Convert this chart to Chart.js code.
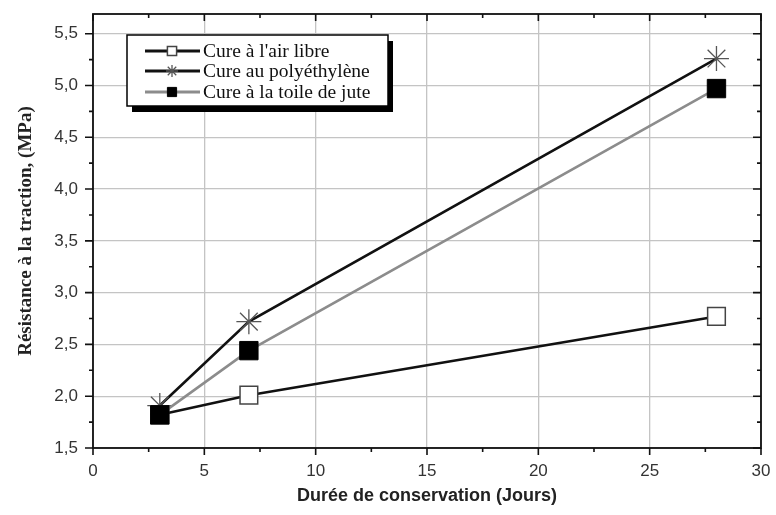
<!DOCTYPE html>
<html lang="fr">
<head>
<meta charset="utf-8" />
<title>Résistance à la traction</title>
<script src="https://cdn.jsdelivr.net/npm/chart.js@4.4.1/dist/chart.umd.min.js"></script>
<style>
  html, body { margin: 0; padding: 0; background: #fff; }
  #wrap { width: 776px; height: 515px; }
</style>
</head>
<body>
<div id="wrap"><canvas id="chart" width="776" height="515"></canvas></div>
<script>
// data
var days = [3, 7, 28];
var airLibre = [1.82, 2.01, 2.77];
var polyethylene = [1.91, 2.72, 5.26];
var toileJute = [1.82, 2.44, 4.97];
var seriesNames = ['Cure à l\'air libre', 'Cure au polyéthylène', 'Cure à la toile de jute'];

var xTicks = [0, 5, 10, 15, 20, 25, 30];
var yTicks = [1.5, 2.0, 2.5, 3.0, 3.5, 4.0, 4.5, 5.0, 5.5];
var xMinor = [2.5, 7.5, 12.5, 17.5, 22.5, 27.5];
var yMinor = [1.75, 2.25, 2.75, 3.25, 3.75, 4.25, 4.75, 5.25];

function pts(ys) {
    return days.map(function (d, i) { return { x: d, y: ys[i] }; });
}

// frame, minor/major ticks and the boxed legend
var decor = {
    id: 'decor',
    afterDraw: function (chart) {
        var ctx = chart.ctx, a = chart.chartArea;
        var xs = chart.scales.x, ys = chart.scales.y;
        ctx.save();
        ctx.strokeStyle = '#111';
        ctx.lineWidth = 1.8;
        ctx.strokeRect(a.left, a.top, a.right - a.left, a.bottom - a.top);

        ctx.lineWidth = 1.6;
        ctx.beginPath();
        xTicks.forEach(function (v) {
            var p = xs.getPixelForValue(v);
            ctx.moveTo(p, a.bottom); ctx.lineTo(p, a.bottom + 7);
            ctx.moveTo(p, a.top); ctx.lineTo(p, a.top + 7);
        });
        xMinor.forEach(function (v) {
            var p = xs.getPixelForValue(v);
            ctx.moveTo(p, a.bottom); ctx.lineTo(p, a.bottom + 4);
            ctx.moveTo(p, a.top); ctx.lineTo(p, a.top + 4);
        });
        yTicks.forEach(function (v) {
            var p = ys.getPixelForValue(v);
            ctx.moveTo(a.left - 8, p); ctx.lineTo(a.left, p);
            ctx.moveTo(a.right, p); ctx.lineTo(a.right - 8, p);
        });
        yMinor.forEach(function (v) {
            var p = ys.getPixelForValue(v);
            ctx.moveTo(a.left - 4, p); ctx.lineTo(a.left, p);
            ctx.moveTo(a.right, p); ctx.lineTo(a.right - 4, p);
        });
        ctx.stroke();

        // legend box with drop shadow
        var bx = 127, by = 35, bw = 261, bh = 71;
        ctx.fillStyle = '#000';
        ctx.fillRect(bx + 5, by + 6, bw, bh);
        ctx.fillStyle = '#fff';
        ctx.fillRect(bx, by, bw, bh);
        ctx.lineWidth = 1.5;
        ctx.strokeStyle = '#000';
        ctx.strokeRect(bx, by, bw, bh);

        var rows = [51, 71, 92];
        var legendR = [6.5, 6, 6.5];
        chart.data.datasets.forEach(function (ds, i) {
            var y = rows[i];
            ctx.strokeStyle = ds.borderColor;
            ctx.lineWidth = 3;
            ctx.beginPath();
            ctx.moveTo(145, y); ctx.lineTo(200, y);
            ctx.stroke();
            ctx.fillStyle = ds.pointBackgroundColor;
            ctx.strokeStyle = ds.pointBorderColor;
            ctx.lineWidth = ds.pointBorderWidth;
            Chart.helpers.drawPoint(ctx, {
                pointStyle: ds.pointStyle,
                radius: legendR[i],
                borderWidth: ds.pointBorderWidth
            }, 172, y);
            ctx.fillStyle = '#111';
            ctx.font = '19.5px "Liberation Serif"';
            ctx.textBaseline = 'middle';
            ctx.fillText(seriesNames[i], 203, y + 1);
        });
        ctx.restore();
    }
};

var ctx = document.getElementById('chart').getContext('2d');
var chart = new Chart(ctx, {
    type: 'scatter',
    data: {
        datasets: [{
            label: seriesNames[0],
            data: pts(airLibre),
            order: 2,
            showLine: true,
            borderColor: '#111',
            borderWidth: 2.6,
            pointStyle: 'rect',
            pointRadius: 12.5,
            pointBackgroundColor: '#fff',
            pointBorderColor: '#444',
            pointBorderWidth: 1.5
        }, {
            label: seriesNames[1],
            data: pts(polyethylene),
            order: 1,
            showLine: true,
            borderColor: '#111',
            borderWidth: 2.6,
            pointStyle: 'star',
            pointRadius: 12.5,
            pointBackgroundColor: '#555',
            pointBorderColor: '#555',
            pointBorderWidth: 1.3
        }, {
            label: seriesNames[2],
            data: pts(toileJute),
            order: 0,
            showLine: true,
            borderColor: '#8c8c8c',
            borderWidth: 2.6,
            pointStyle: 'rect',
            pointRadius: 13,
            pointBackgroundColor: '#000',
            pointBorderColor: '#000',
            pointBorderWidth: 1
        }]
    },
    options: {
        responsive: false,
        animation: false,
        layout: { padding: { top: 8, right: 15, left: 0, bottom: 0 } },
        plugins: { legend: { display: false }, tooltip: { enabled: false } },
        scales: {
            x: {
                type: 'linear', min: 0, max: 30,
                afterBuildTicks: function (s) { s.ticks = xTicks.map(function (v) { return { value: v }; }); },
                afterFit: function (s) { s.height = 67; s.paddingLeft = 0; s.paddingRight = 0; },
                grid: { color: '#c4c4c4', lineWidth: 1.3, drawTicks: false },
                border: { display: false },
                ticks: { padding: 13, color: '#333', font: { family: 'Liberation Sans', size: 17 } },
                title: { display: true, text: 'Durée de conservation (Jours)', color: '#222',
                         font: { family: 'Liberation Sans', size: 18, weight: 'bold' }, padding: { top: 4, bottom: 8 } }
            },
            y: {
                type: 'linear', min: 1.5, max: 5.69,
                afterBuildTicks: function (s) { s.ticks = yTicks.map(function (v) { return { value: v }; }); },
                afterFit: function (s) { s.width = 93; s.paddingTop = 0; s.paddingBottom = 0; },
                grid: { color: '#c4c4c4', lineWidth: 1.3, drawTicks: false },
                border: { display: false },
                ticks: { padding: 15, color: '#333', font: { family: 'Liberation Sans', size: 17 },
                         callback: function (v) { return v.toFixed(1).replace('.', ','); } },
                title: { display: true, text: 'Résistance à la traction, (MPa)', color: '#222',
                         font: { family: 'Liberation Serif', size: 19, weight: 'bold' }, padding: { top: 15, bottom: 4 } }
            }
        }
    },
    plugins: [decor]
});
</script>
</body>
</html>
